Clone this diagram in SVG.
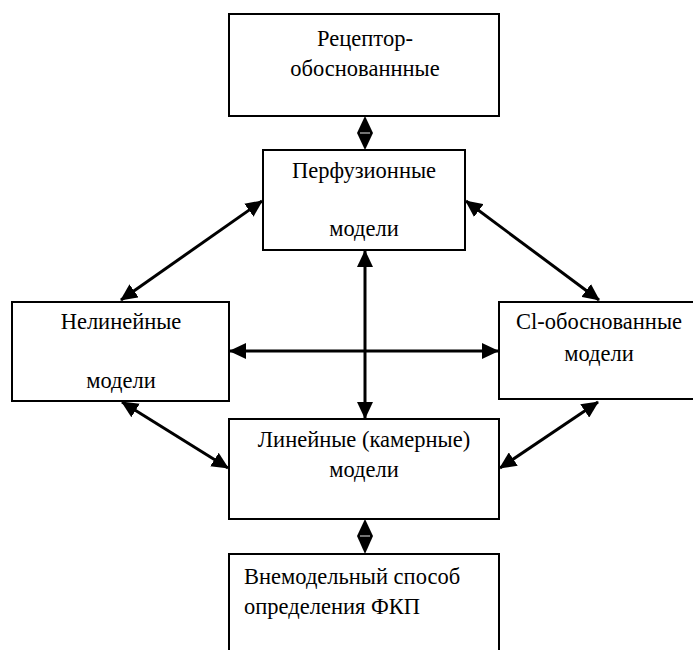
<svg xmlns="http://www.w3.org/2000/svg" width="693" height="650" viewBox="0 0 693 650">
<style>
text{font-family:'Liberation Serif','Times New Roman',serif;font-size:22.5px;fill:#000;text-anchor:middle}
.tl{text-anchor:start}
.box{fill:#fff;stroke:#000;stroke-width:2}
.c{stroke:#000;stroke-width:3;fill:none;marker-start:url(#ah);marker-end:url(#ah)}
.d{fill:#000}
.dash{stroke:#9a9a9a;stroke-width:1.5}
</style>
<defs>
<marker id="ah" markerUnits="userSpaceOnUse" markerWidth="18" markerHeight="16" refX="16" refY="8" orient="auto-start-reverse">
<path d="M0,0 L17,8 L0,16 z" fill="#000"/>
</marker>
</defs>
<rect width="693" height="650" fill="#fff"/>
<g id="connectors">
<line class="c" x1="365" y1="251" x2="365" y2="418"/>
<line class="c" x1="230" y1="351" x2="498" y2="351"/>
<line class="c" x1="262" y1="201" x2="121" y2="300"/>
<line class="c" x1="466" y1="201" x2="599" y2="300"/>
<line class="c" x1="122" y1="402" x2="228" y2="468"/>
<line class="c" x1="598" y1="402" x2="500" y2="468"/>
<polygon class="d" points="365,116 373,133 365,150 357,133"/>
<line class="dash" x1="360" y1="133" x2="370" y2="133"/>
<polygon class="d" points="365,519 373,536 365,554 357,536"/>
<line class="dash" x1="360" y1="536" x2="370" y2="536"/>
</g>
<g id="receptor">
<rect class="box" x="229" y="14" width="270" height="102"/>
<text x="365" y="46">Рецептор-</text>
<text x="365" y="76">обоснованнные</text>
</g>
<g id="perfusion">
<rect class="box" x="263" y="150" width="202" height="100"/>
<text x="364" y="178">Перфузионные</text>
<text x="364" y="236">модели</text>
</g>
<g id="nonlinear">
<rect class="box" x="12" y="302" width="217" height="99"/>
<text x="121" y="329">Нелинейные</text>
<text x="121" y="388">модели</text>
</g>
<g id="cl">
<rect class="box" x="499" y="302" width="200" height="97"/>
<text x="599" y="329">Cl-обоснованные</text>
<text x="599" y="361">модели</text>
</g>
<g id="linear">
<rect class="box" x="229" y="419" width="270" height="100"/>
<text x="364" y="447">Линейные (камерные)</text>
<text x="364" y="477">модели</text>
</g>
<g id="extramodel">
<rect class="box" x="229" y="554" width="270" height="110"/>
<text class="tl" x="244" y="584">Внемодельный способ</text>
<text class="tl" x="244" y="614">определения ФКП</text>
</g>
</svg>
